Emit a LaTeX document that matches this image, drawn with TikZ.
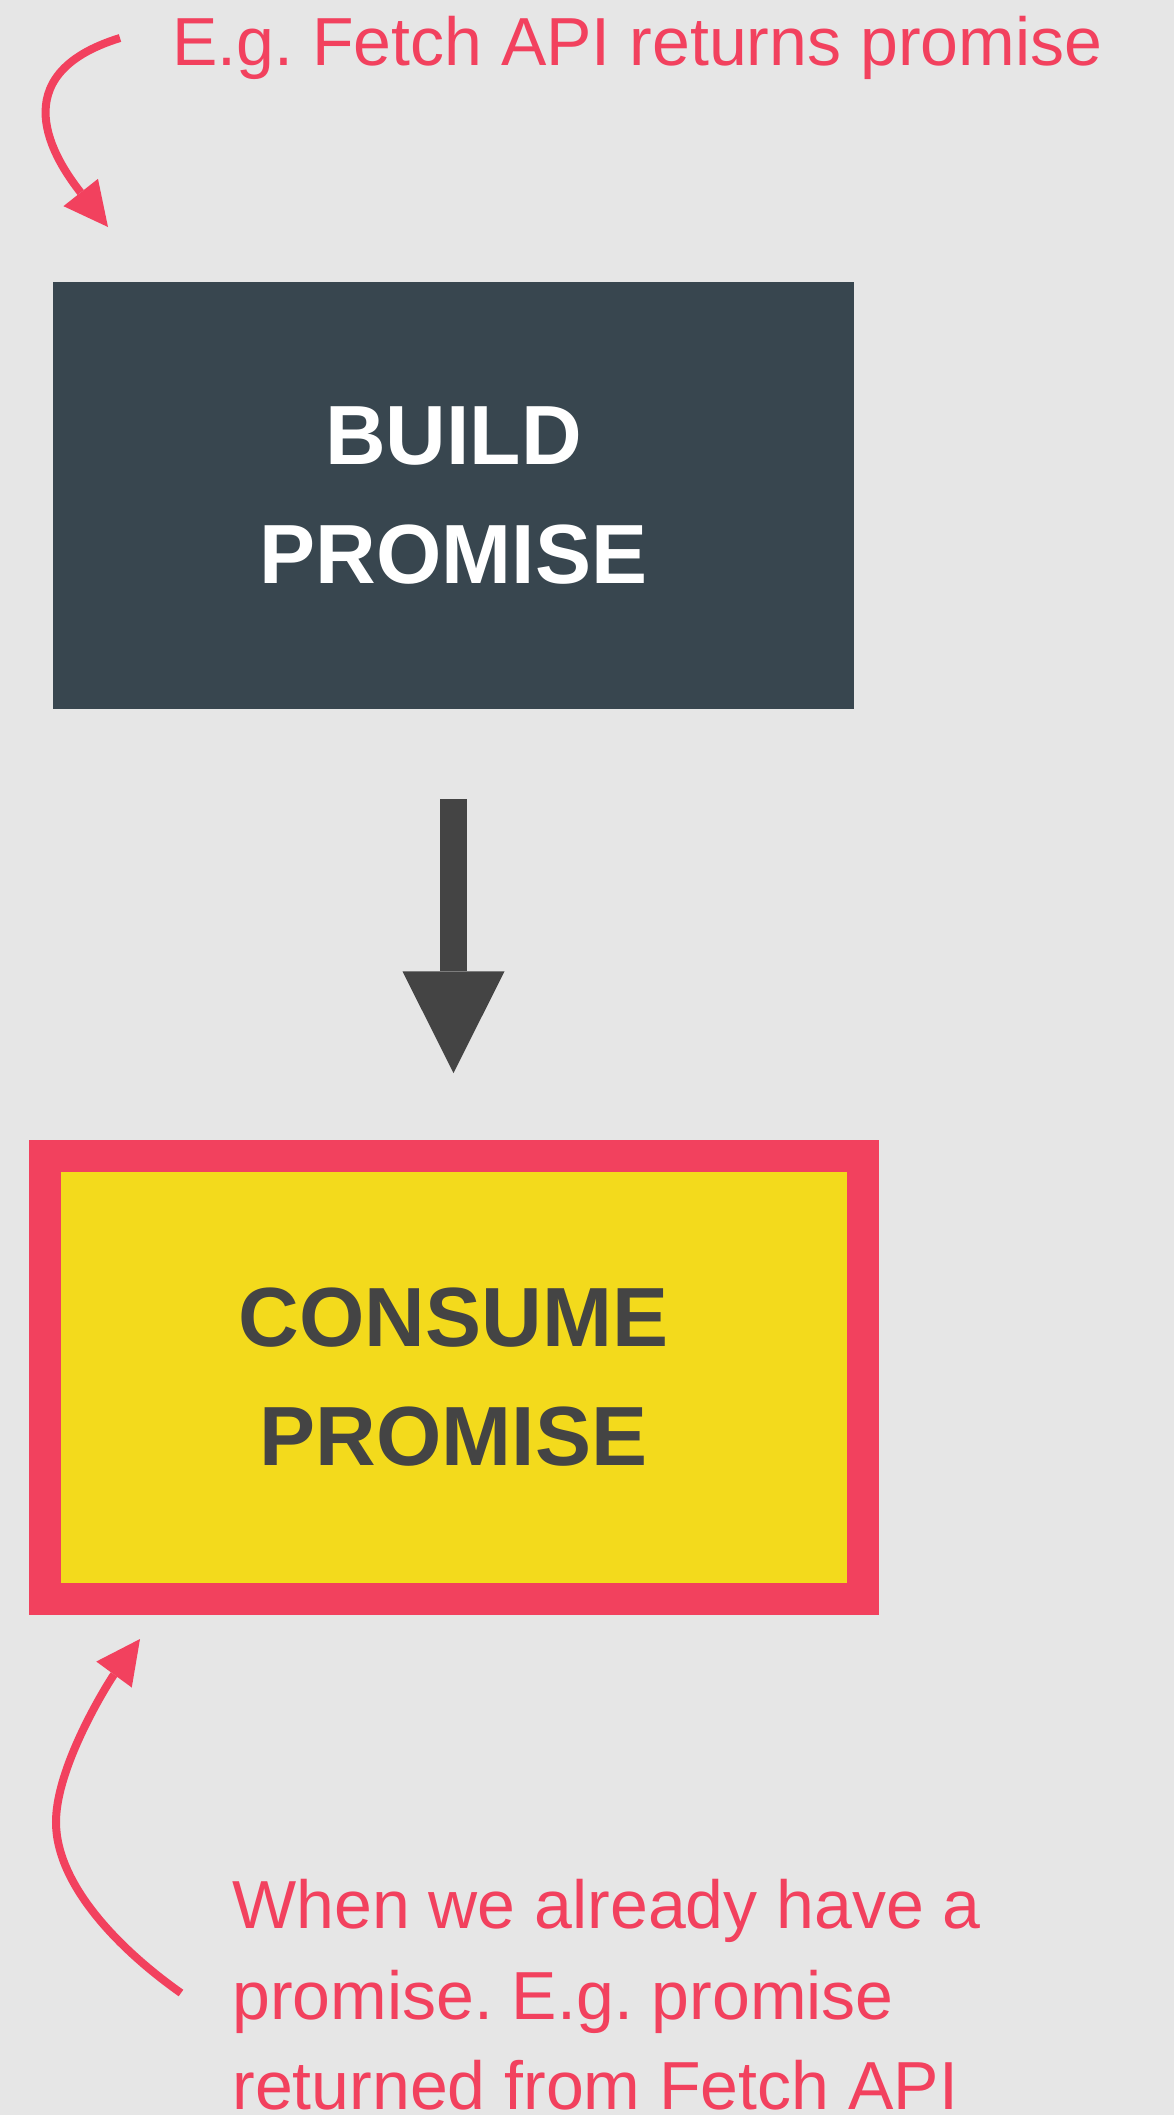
\documentclass[tikz,border=0pt]{standalone}
\usepackage{fontspec}
\setmainfont{Liberation Sans}
\usetikzlibrary{arrows.meta}
\frenchspacing

\definecolor{bggray}{RGB}{230,230,230}
\definecolor{slate}{RGB}{56,70,79}
\definecolor{notered}{RGB}{242,65,94}
\definecolor{promyellow}{RGB}{243,218,28}
\definecolor{arrowgray}{RGB}{68,68,68}

\begin{document}
\begin{tikzpicture}[x=0.5pt, y=-0.5pt,
  note/.style={text=notered, inner sep=0pt, align=left, font=\fontsize{34}{45.2}\selectfont},
  boxlabel/.style={inner sep=0pt, align=center, font=\bfseries\fontsize{42}{59.5}\selectfont},
  curvearrow/.style={draw=notered, line width=4pt, -{Triangle[width=22pt,length=22pt,line width=0pt]}}]
  % Page and background
  \fill[bggray] (0,0) rectangle (1174,2115);
  \useasboundingbox (0,0) rectangle (1174,2115);

  % Top: build step
  \node[note, anchor=base west] (fetchnote) at (172,65.7) {E.g. Fetch API returns promise};
  \coordinate (fetchtail) at (120,38);
  \coordinate (fetchtip) at (108,227);
  \draw[curvearrow] (fetchtail) .. controls (0,75) and (55,160) .. (fetchtip);
  \node[boxlabel, fill=slate, text=white, minimum width=400.7pt, minimum height=213.25pt] (buildbox) at (453.5,495.3) {BUILD\\PROMISE};

  % Bottom: consume step
  \node[boxlabel, fill=promyellow, draw=notered, line width=16pt, text=arrowgray, minimum width=409pt, minimum height=221.5pt] (consumebox) at (453.5,1377.5) {CONSUME\\PROMISE};
  \draw[arrowgray, line width=13.5pt, -{Triangle[width=51pt,length=50.8pt,line width=0pt]}, shorten <=45.25pt, shorten >=33.5pt] (buildbox) -- (consumebox);

  \node[note, anchor=north west] (promisenote) at (232,1879) {When we already have a\\promise. E.g. promise\\returned from Fetch API};
  \coordinate (promisetail) at (181,1993);
  \coordinate (promisetip) at (140,1639);
  \draw[curvearrow] (promisetail) .. controls (120,1950) and (56,1885) .. (56,1822) .. controls (56,1765) and (110,1680) .. (promisetip);
\end{tikzpicture}
\end{document}
